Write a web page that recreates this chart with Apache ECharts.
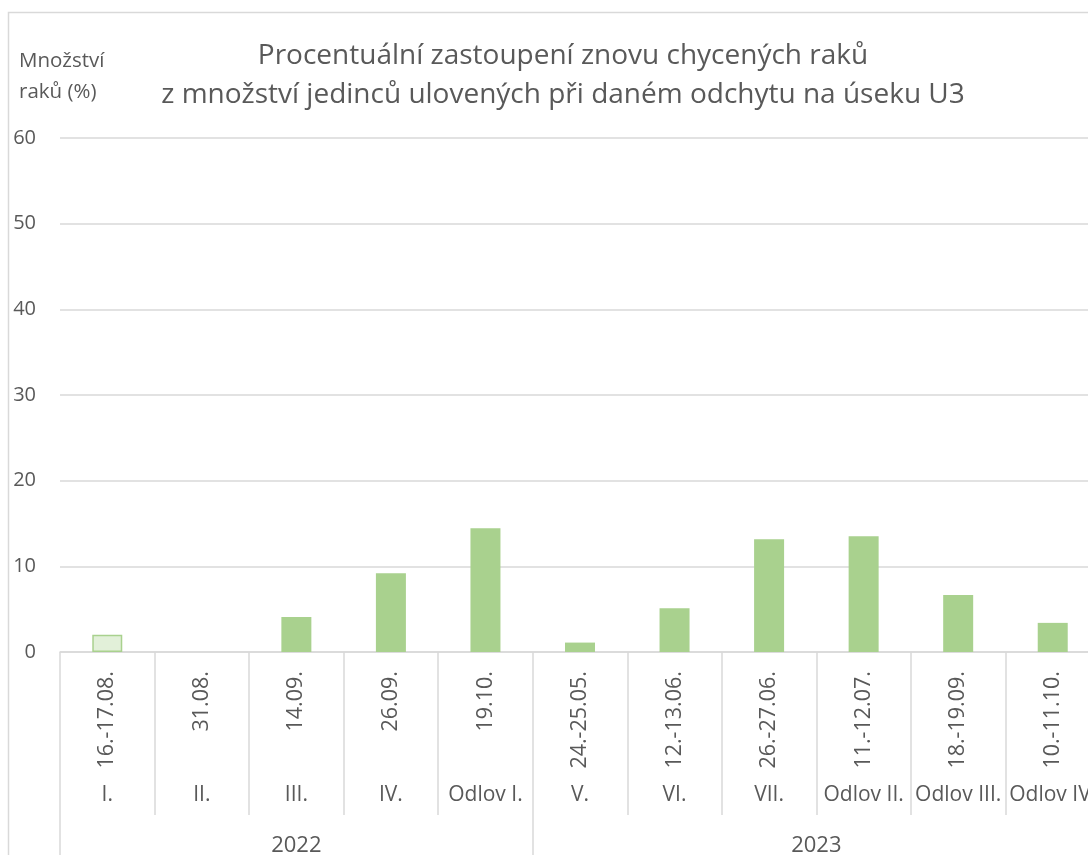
<!DOCTYPE html>
<html>
<head>
<meta charset="utf-8">
<script src="https://cdn.jsdelivr.net/npm/echarts@6/dist/echarts.min.js"></script>
<style>
html,body{margin:0;padding:0;background:#fff;overflow:hidden;}
#chart{width:1100px;height:855px;}
</style>
</head>
<body>
<div id="chart"></div>
<script>
const dates = ['16.-17.08.','31.08.','14.09.','26.09.','19.10.','24.-25.05.','12.-13.06.','26.-27.06.','11.-12.07.','18.-19.09.','10.-11.10.'];
const catches = ['I.','II.','III.','IV.','Odlov I.','V.','VI.','VII.','Odlov II.','Odlov III.','Odlov IV.'];
const values = [2.0, 0, 4.1, 9.2, 14.45, 1.1, 5.1, 13.15, 13.5, 6.65, 3.4];
const years = ['2022','2023'];
const yearCounts = [5, 6];
const yTicks = [0,10,20,30,40,50,60];

const FONT = 'Open Sans';
const TXT = '#595959';
const GRIDC = '#d9d9d9';

const yearBounds = [0];
yearCounts.forEach(c => yearBounds.push(yearBounds[yearBounds.length-1] + c));
const yearCenters = years.map((y,i) => (yearBounds[i] + yearBounds[i+1]) / 2);

const chart = echarts.init(document.getElementById('chart'), null, {renderer:'canvas'});
chart.setOption({
  backgroundColor:'#fff',
  animation:false,
  textStyle:{fontFamily:FONT},
  graphic:[
    {type:'rect', shape:{x:8.5,y:12.5,width:1200,height:1000}, style:{fill:'none', stroke:GRIDC, lineWidth:1.5}, silent:true},
    {type:'text', left:19, top:46, style:{text:'Množství\nraků (%)', fill:TXT, font:'20.5px "Open Sans"', lineHeight:31}}
  ],
  title:{
    text:'Procentuální zastoupení znovu chycených raků\nz množství jedinců ulovených při daném odchytu na úseku U3',
    left:558, textAlign:'center', top:32,
    textStyle:{fontFamily:FONT, fontSize:28, fontWeight:'normal', color:TXT, lineHeight:39}
  },
  grid:{left:60, top:138, width:1040, height:514, containLabel:false, outerBoundsMode:'none'},
  yAxis:{
    type:'value', min:0, max:60, interval:10,
    axisLine:{show:false}, axisTick:{show:false},
    splitLine:{lineStyle:{color:GRIDC, width:1.5}},
    axisLabel:{color:TXT, fontSize:20, margin:24, fontFamily:FONT, customValues: yTicks}
  },
  xAxis:[
    {
      type:'category', data:dates, position:'bottom',
      axisLine:{lineStyle:{color:GRIDC, width:1.5}},
      axisTick:{show:true, interval:0, length:163, lineStyle:{color:GRIDC, width:1.5}},
      axisLabel:{rotate:90, interval:0, color:TXT, fontSize:21.5, margin:19, fontFamily:FONT}
    },
    {
      type:'category', data:catches, position:'bottom', offset:0,
      axisLine:{show:false}, axisTick:{show:false},
      axisLabel:{interval:0, color:TXT, fontSize:21, margin:133, fontFamily:FONT}
    },
    {
      type:'value', min:0, max:dates.length, position:'bottom',
      axisLine:{show:false},
      splitLine:{show:false},
      axisTick:{show:true, length:210, customValues:yearBounds, lineStyle:{color:GRIDC, width:1.5}},
      axisLabel:{customValues:yearCenters, color:TXT, fontSize:22, margin:183, fontFamily:FONT,
        formatter:(v)=>{ const i = yearCenters.indexOf(v); return i>=0 ? years[i] : ''; }}
    }
  ],
  series:[{
    type:'bar', xAxisIndex:0, yAxisIndex:0,
    barWidth:30,
    data: values.map((v,i)=> i===0 ? {value:v, itemStyle:{color:'#E2F0D9', borderColor:'#A9D18E', borderWidth:1.5}} : v),
    itemStyle:{color:'#A9D18E'}
  }]
});
</script>
</body>
</html>
